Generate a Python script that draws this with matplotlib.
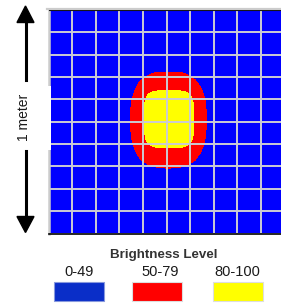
import numpy as np
import matplotlib
matplotlib.use("Agg")
import matplotlib.pyplot as plt
from matplotlib.colors import ListedColormap
from matplotlib.patches import Rectangle, Polygon
from matplotlib.lines import Line2D

plt.rcParams["font.family"] = ["Liberation Sans", "DejaVu Sans"]

# brightness classes shown in the legend
level_labels = ["0-49", "50-79", "80-100"]
level_colors = ["#0000ff", "#ff0000", "#ffff00"]
swatch_colors = ["#0a2ec8", "#ff0000", "#ffff00"]
legend_title = "Brightness Level"
scale_label = "1 meter"

# grid cells (10 x 10 over one meter)
n_cols = 10
n_rows = 10

# extents of bright regions in grid cells: (x0, x1, y0, y1), y measured from top
red_region = (3.43, 6.69, 2.78, 7.12)
yellow_region = (4.03, 6.14, 3.62, 6.2)

W, H = 281, 303
fig = plt.figure(figsize=(W / 100, H / 100), dpi=100)

def fx(x):
    return x / W

def fy(y):
    return 1 - y / H

ax = fig.add_axes([fx(48.5), fy(233.5), 236 / W, 223.5 / H])

# build level field from the region extents (rounded rectangles)
xs = np.linspace(0, n_cols, 480)
ys = np.linspace(0, n_rows, 480)
X, Y = np.meshgrid(xs, ys)

def inside(region, p):
    x0, x1, y0, y1 = region
    cx, cy = (x0 + x1) / 2, (y0 + y1) / 2
    rx, ry = (x1 - x0) / 2, (y1 - y0) / 2
    return (np.abs((X - cx) / rx) ** p + np.abs((Y - cy) / ry) ** p) <= 1

field = np.zeros_like(X, dtype=int)
field[inside(red_region, 2.7)] = 1
field[inside(yellow_region, 4.5)] = 2

ax.imshow(field, cmap=ListedColormap(level_colors), vmin=0, vmax=2,
          extent=(0, n_cols, n_rows, 0), aspect="auto", interpolation="nearest")

for i in range(1, n_cols + 1):
    ax.axvline(i, color="#cbcbd3", lw=1.4)
for j in range(1, n_rows):
    ax.axhline(j, color="#cbcbd3", lw=1.4)

ax.set_xlim(0, n_cols)
ax.set_ylim(n_rows, 0)
ax.set_xticks([])
ax.set_yticks([])
ax.spines["top"].set_color("black")
ax.spines["top"].set_linewidth(0.8)
ax.spines["left"].set_color("#cccccc")
ax.spines["left"].set_linewidth(1.8)
ax.spines["bottom"].set_color("black")
ax.spines["bottom"].set_linewidth(1.2)
ax.spines["right"].set_visible(False)

# gray frame line above the top edge
fig.add_artist(Line2D([fx(47), 1], [fy(8.5), fy(8.5)], transform=fig.transFigure,
                      color="#cccccc", lw=1.6))

# white notch on left edge behind the scale label
fig.add_artist(Rectangle((fx(47), fy(150)), 4 / W, 64 / H, transform=fig.transFigure,
                         facecolor="white", edgecolor="none", zorder=5))

# scale arrow
ax_x = 25.5
for seg in [(22, 80), (151, 217)]:
    fig.add_artist(Line2D([fx(ax_x), fx(ax_x)], [fy(seg[0]), fy(seg[1])],
                          transform=fig.transFigure, color="black", lw=2.2))
fig.add_artist(Polygon([(fx(ax_x), fy(6)), (fx(17), fy(22.5)), (fx(34), fy(22.5))],
                       closed=True, transform=fig.transFigure, color="black"))
fig.add_artist(Polygon([(fx(ax_x), fy(232.5)), (fx(17), fy(216.5)), (fx(34), fy(216.5))],
                       closed=True, transform=fig.transFigure, color="black"))
fig.text(fx(23.5), fy(117.5), scale_label, rotation=90, ha="center", va="center",
         fontsize=10, color="#1a1a1a")

# legend
fig.text(fx(163.5), fy(255), legend_title, ha="center", va="center",
         fontsize=9.6, fontweight="bold", color="#333333")
label_x = [79, 160, 237]
swatch_x = [54, 132, 213]
for lab, lx, sx, c in zip(level_labels, label_x, swatch_x, swatch_colors):
    fig.text(fx(lx), fy(271.5), lab, ha="center", va="center", fontsize=10.5, color="#1a1a1a")
    fig.add_artist(Rectangle((fx(sx), fy(301)), 50 / W, 19 / H, transform=fig.transFigure,
                             facecolor=c, edgecolor="#8899dd" if c == swatch_colors[0] else "#dddddd",
                             lw=0.8))

fig.savefig("out.png", dpi=100)
